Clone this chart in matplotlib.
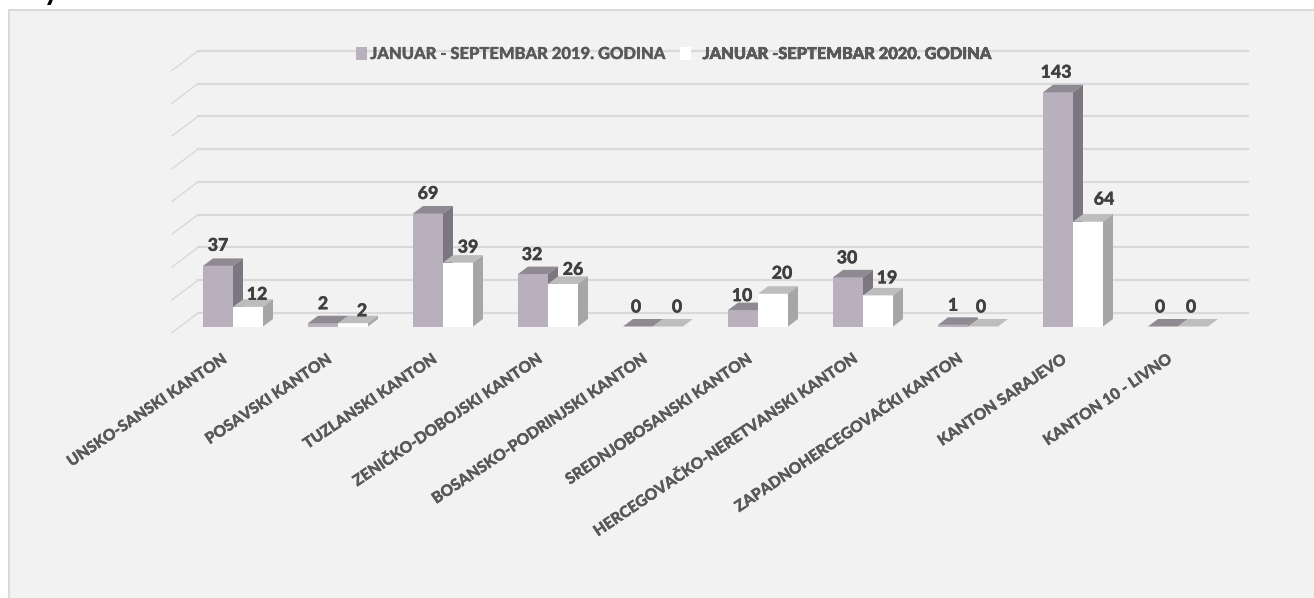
import matplotlib
matplotlib.use("Agg")
import matplotlib.pyplot as plt
import matplotlib.patheffects as pe
from matplotlib.patches import Polygon, Rectangle

CATEGORIES = ["UNSKO-SANSKI KANTON", "POSAVSKI KANTON", "TUZLANSKI KANTON",
              "ZENIČKO-DOBOJSKI KANTON", "BOSANSKO-PODRINJSKI KANTON",
              "SREDNJOBOSANSKI KANTON", "HERCEGOVAČKO-NERETVANSKI KANTON",
              "ZAPADNOHERCEGOVAČKI KANTON", "KANTON SARAJEVO", "KANTON 10 - LIVNO"]
SERIES_2019 = [37, 2, 69, 32, 0, 10, 30, 1, 143, 0]
SERIES_2020 = [12, 2, 39, 26, 0, 20, 19, 0, 64, 0]
LEGEND_2019 = "JANUAR - SEPTEMBAR 2019. GODINA"
LEGEND_2020 = "JANUAR -SEPTEMBAR 2020. GODINA"
GRID_VALUES = [0, 20, 40, 60, 80, 100, 120, 140, 160]

# value labels sit by hand in the source, nudges in pixels (dx, dy up)
NUDGE_2019 = [(0, 20.5), (0, 19.5), (0, 20), (-1, 19.5), (-2, 19.5), (-1, 14.5), (-1, 19.5), (0, 19.5), (-2, 20), (-3, 19.5)]
NUDGE_2020 = [(9, 12.5), (9, 12.5), (10, 15.5), (10, 14.5), (9, 19.5), (9, 20.5), (9, 17.5), (-2, 19.5), (16, 22.5), (-2, 19.5)]

W, H = 1314, 598
X0, STEP = 233.0, 105.0       # px of first group centre, px per category
Y0, PX_PER_UNIT = 326.5, 1.638  # px of value 0, px per unit
BAR_W = 30 / STEP
DEPTH_X, DEPTH_Y = 10 / STEP, 7.5 / PX_PER_UNIT

COL_2019 = {"front": "#b8b0bc", "top": "#8f8a92", "side": "#7c7680"}
COL_2020 = {"front": "#ffffff", "top": "#bdbdbd", "side": "#a6a6a6"}
GRID = "#d9d9d9"
TXT = "#404040"
LAB = "#595959"
FONT = "Lato"


def px_x(p):
    return (p - X0) / STEP


def px_y(p):
    return (Y0 - p) / PX_PER_UNIT


def thicken(text, color):
    # Lato's bold is lighter than the source face, a thin stroke makes up for it
    text.set_path_effects([pe.withStroke(linewidth=0.2, foreground=color)])


def bar3d(ax, left, v, col, z):
    r = left + BAR_W
    ax.add_patch(Rectangle((left, 0), BAR_W, v, fc=col["front"], ec="none", zorder=z))
    ax.add_patch(Polygon([(left, v), (r, v), (r + DEPTH_X, v + DEPTH_Y), (left + DEPTH_X, v + DEPTH_Y)],
                         fc=col["top"], ec="none", zorder=z))
    ax.add_patch(Polygon([(r, 0), (r + DEPTH_X, DEPTH_Y), (r + DEPTH_X, v + DEPTH_Y), (r, v)],
                         fc=col["side"], ec="none", zorder=z))


def legend_entry(ax, color, label, left_px, pad, size):
    h = Rectangle((0, 0), 1, 1, fc=color, ec="none")
    lg = ax.legend([h], [label], frameon=False, loc="center left", bbox_to_anchor=(left_px / W, 1 - 54 / H),
                   handlelength=0.66, handleheight=0.8, handletextpad=pad, borderpad=0, borderaxespad=0,
                   labelcolor=LAB, prop={"family": FONT, "weight": "black", "size": size})
    thicken(lg.get_texts()[0], LAB)
    ax.add_artist(lg)


fig = plt.figure(figsize=(W / 100, H / 100), dpi=100, facecolor="white")
ax = fig.add_axes([0, 0, 1, 1])
ax.set_xlim(px_x(0), px_x(W))
ax.set_ylim(px_y(H), px_y(0))
ax.axis("off")

# chart panel, runs off the right and bottom of the crop
ax.add_patch(Rectangle((px_x(8.5), px_y(H + 10)), px_x(W + 10) - px_x(8.5), px_y(10) - px_y(H + 10),
                       fc="#f2f2f2", ec=GRID, lw=1.5, zorder=0))

# cut-off title above the panel
fig.text(44 / W, 1 - 0 / H, "y", fontsize=20, fontweight="black", family=FONT, color="black", va="baseline")

# floor + back wall gridlines
fx, bx, ex = px_x(172), px_x(198), px_x(1248)
for g in GRID_VALUES:
    back = g + 8.24
    ax.plot([fx, bx], [g - 3.66, back], color=GRID, lw=1.0, zorder=1)
    ax.plot([bx, ex], [back, back], color=GRID, lw=1.6, zorder=1)

for i, (a, b) in enumerate(zip(SERIES_2019, SERIES_2020)):
    bar3d(ax, i - BAR_W, a, COL_2019, 2 + i * 0.1)
    bar3d(ax, i, b, COL_2020, 2.05 + i * 0.1)
    for v, c, (dx, dy) in ((a, i - BAR_W / 2, NUDGE_2019[i]), (b, i + BAR_W / 2, NUDGE_2020[i])):
        t = ax.text(c + dx / STEP, v + dy / PX_PER_UNIT, str(v), fontsize=12.8, fontweight="black", family=FONT,
                    color=TXT, ha="center", va="center", zorder=5)
        thicken(t, TXT)
    t = ax.text(i - 9 / STEP, px_y(358), CATEGORIES[i], fontsize=11.2, fontweight="black", family=FONT, color=LAB,
                rotation=34, rotation_mode="anchor", ha="right", va="center", zorder=5)
    thicken(t, LAB)

legend_entry(ax, COL_2019["front"], LEGEND_2019, 356, 0.2, 11.9)
legend_entry(ax, COL_2020["front"], LEGEND_2020, 680, 0.72, 11.8)

fig.savefig("out.png", dpi=100)
